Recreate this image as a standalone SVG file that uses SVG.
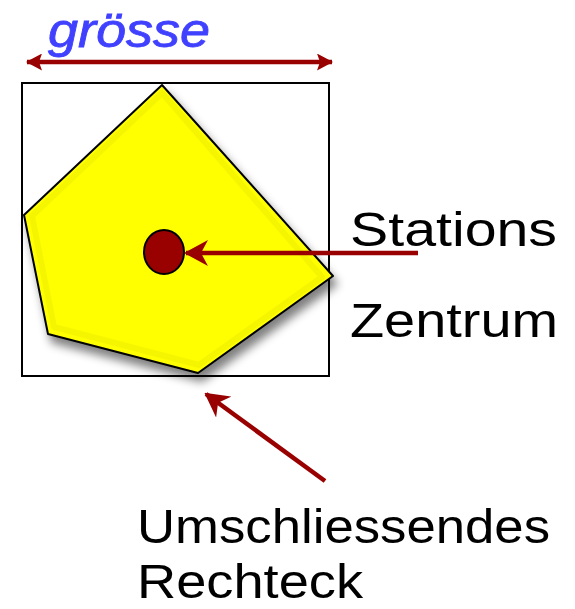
<svg xmlns="http://www.w3.org/2000/svg" width="575" height="609" viewBox="0 0 575 609">
<style>
.lbl{font-family:"Liberation Sans","DejaVu Sans",sans-serif;font-size:48px;fill:#000}
.conn{stroke:#990000;stroke-width:4.5;fill:none}
</style>
<defs>
<marker id="ah" viewBox="0 0 24 26" refX="22" refY="13" markerWidth="24" markerHeight="26" markerUnits="userSpaceOnUse" orient="auto-start-reverse">
<path d="M0,0 L24,13 L0,26 L7,13 Z" fill="#990000"/>
</marker>
<marker id="ahs" viewBox="0 0 16 17" refX="15" refY="8.5" markerWidth="16" markerHeight="17" markerUnits="userSpaceOnUse" orient="auto-start-reverse">
<path d="M0,0 L16,8.5 L0,17 L3,8.5 Z" fill="#990000"/>
</marker>
<filter id="sh" x="-20%" y="-20%" width="150%" height="150%">
<feGaussianBlur in="SourceAlpha" stdDeviation="5"/>
<feOffset dx="4" dy="8" result="b"/>
<feComponentTransfer><feFuncA type="linear" slope="0.5"/></feComponentTransfer>
<feMerge><feMergeNode/><feMergeNode in="SourceGraphic"/></feMerge>
</filter>
</defs>
<g id="rechteck">
<rect x="22" y="83" width="307" height="293" fill="none" stroke="#000" stroke-width="2"/>
</g>
<g id="polygon">
<polygon points="162,85 24,215 48,334 198,373 333,276" fill="#ffff00" stroke="#000" stroke-width="2" stroke-linejoin="round" filter="url(#sh)"/>
<polygon points="162,93 32,216 54,327 199,365 322,277" fill="none" stroke="#f0ee00" stroke-width="6" stroke-linejoin="round" opacity="0.6"/>
</g>
<g id="zentrum">
<ellipse cx="164" cy="252" rx="20" ry="22" fill="#990000" stroke="#000" stroke-width="2"/>
</g>
<g id="connectors">
<line class="conn" x1="27" y1="62" x2="332" y2="62" marker-start="url(#ahs)" marker-end="url(#ahs)"/>
<line class="conn" x1="418" y1="253" x2="186" y2="253" marker-end="url(#ah)"/>
<line class="conn" x1="325" y1="481" x2="206" y2="394" marker-end="url(#ah)"/>
</g>
<g id="labels">
<text x="48" y="47" font-family="Liberation Sans,DejaVu Sans,sans-serif" font-style="italic" font-size="48" fill="#4040ff" stroke="#4040ff" stroke-width="0.8" textLength="162" lengthAdjust="spacingAndGlyphs">grösse</text>
<text class="lbl" x="350" y="246" textLength="207" lengthAdjust="spacingAndGlyphs">Stations</text>
<text class="lbl" x="350" y="337" textLength="208" lengthAdjust="spacingAndGlyphs">Zentrum</text>
<text class="lbl" x="137" y="543" font-size="52" textLength="413" lengthAdjust="spacingAndGlyphs">Umschliessendes</text>
<text class="lbl" x="137" y="598" font-size="48" textLength="226" lengthAdjust="spacingAndGlyphs">Rechteck</text>
</g>
</svg>
